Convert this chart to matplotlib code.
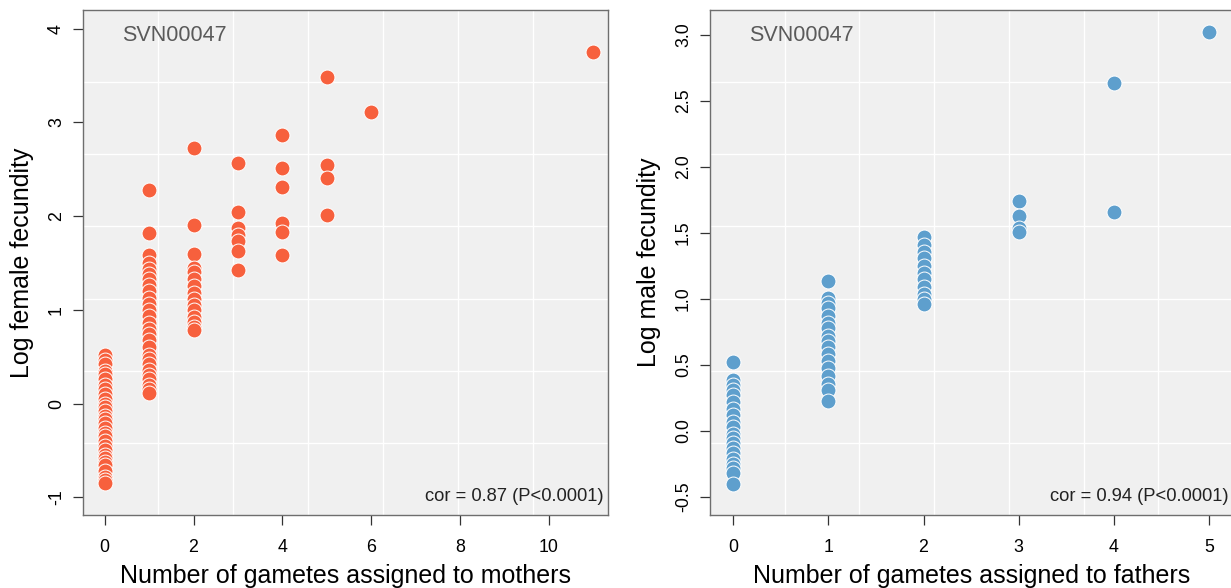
import numpy as np
import matplotlib

matplotlib.use("Agg")
import matplotlib.pyplot as plt

plt.rcParams["font.family"] = ["Liberation Sans", "DejaVu Sans"]

# female panel: gametes assigned to mothers vs log fecundity
female_counts = [0] * 30 + [1] * 27 + [2] * 15 + [3] * 7 + [4] * 6 + [5] * 4 + [6, 11]
female_logfec = [
    # 0 gametes
    0.52, 0.46, 0.42, 0.35, 0.31, 0.26, 0.20, 0.16, 0.10, 0.05,
    0.00, -0.04, -0.08, -0.13, -0.17, -0.21, -0.26, -0.31, -0.35, -0.40,
    -0.45, -0.50, -0.55, -0.58, -0.62, -0.66, -0.72, -0.78, -0.82, -0.85,
    # 1 gamete
    2.28, 1.82, 1.58, 1.50, 1.44, 1.38, 1.33, 1.27, 1.20, 1.13,
    1.06, 1.00, 0.93, 0.86, 0.80, 0.74, 0.68, 0.60, 0.52, 0.47,
    0.42, 0.36, 0.30, 0.26, 0.20, 0.15, 0.11,
    # 2 gametes
    2.73, 1.90, 1.60, 1.45, 1.40, 1.33, 1.25, 1.18, 1.12, 1.05,
    1.00, 0.92, 0.87, 0.82, 0.78,
    # 3 gametes
    2.57, 2.04, 1.87, 1.80, 1.73, 1.63, 1.43,
    # 4 gametes
    2.87, 2.51, 2.31, 1.93, 1.83, 1.59,
    # 5 gametes
    3.48, 2.55, 2.41, 2.01,
    # 6 and 11 gametes
    3.11, 3.75,
]

# male panel: gametes assigned to fathers vs log fecundity
male_counts = [0] * 20 + [1] * 17 + [2] * 11 + [3] * 4 + [4] * 2 + [5]
male_logfec = [
    # 0 gametes
    0.52, 0.39, 0.35, 0.31, 0.27, 0.22, 0.17, 0.12, 0.07, 0.03,
    -0.02, -0.05, -0.09, -0.13, -0.17, -0.21, -0.25, -0.28, -0.32, -0.40,
    # 1 gamete
    1.14, 1.01, 0.97, 0.93, 0.87, 0.82, 0.78, 0.72, 0.68, 0.64,
    0.58, 0.53, 0.48, 0.42, 0.36, 0.31, 0.23,
    # 2 gametes
    1.47, 1.41, 1.36, 1.31, 1.25, 1.20, 1.15, 1.09, 1.04, 1.00, 0.96,
    # 3 gametes
    1.74, 1.63, 1.54, 1.51,
    # 4 and 5 gametes
    2.64, 1.66, 3.02,
]

female_xticks = [0, 2, 4, 6, 8, 10]
female_yticks = [-1, 0, 1, 2, 3, 4]
male_xticks = [0, 1, 2, 3, 4, 5]
male_yticks = [-0.5, 0.0, 0.5, 1.0, 1.5, 2.0, 2.5, 3.0]

PANELS = [
    dict(
        rect=[83 / 1231, 73 / 588, 525 / 1231, 505 / 588],
        x=female_counts, y=female_logfec, color="#F7603D",
        xlim=(-0.49, 11.34), ylim=(-1.19, 4.2),
        xticks=female_xticks, yticks=female_yticks, yfmt="{:g}",
        xlabel="Number of gametes assigned to mothers",
        ylabel="Log female fecundity",
        cor="cor = 0.87 (P<0.0001)",
    ),
    dict(
        rect=[710 / 1231, 73 / 588, 523 / 1231, 505 / 588],
        x=male_counts, y=male_logfec, color="#5E9FCD",
        xlim=(-0.242, 5.25), ylim=(-0.636, 3.19),
        xticks=male_xticks, yticks=male_yticks, yfmt="{:.1f}",
        xlabel="Number of gametes assigned to fathers",
        ylabel="Log male fecundity",
        cor="cor = 0.94 (P<0.0001)",
    ),
]

fig = plt.figure(figsize=(12.31, 5.88), dpi=100)

for p in PANELS:
    ax = fig.add_axes(p["rect"])
    ax.set_facecolor("#F0F0F0")
    ax.set_xlim(*p["xlim"])
    ax.set_ylim(*p["ylim"])

    # equal-cell background grid, 7 x 7
    for gx in np.linspace(*p["xlim"], 8)[1:-1]:
        ax.axvline(gx, color="white", lw=1.0, zorder=1)
    for gy in np.linspace(*p["ylim"], 8)[1:-1]:
        ax.axhline(gy, color="white", lw=1.0, zorder=1)

    ax.scatter(p["x"], p["y"], s=115, c=p["color"], edgecolors="white",
               linewidths=0.7, zorder=3)

    ax.set_xticks(p["xticks"])
    ax.set_yticks(p["yticks"])
    ax.set_yticklabels([p["yfmt"].format(v) for v in p["yticks"]],
                       rotation=90, va="center")
    ax.tick_params(axis="both", direction="out", length=7, width=0.9,
                   labelsize=12.8, color="#333333", pad=6)
    ax.tick_params(axis="x", pad=10)
    for side in ax.spines.values():
        side.set_color("#6E6E6E")
        side.set_linewidth(1.0)

    ax.set_xlabel(p["xlabel"], fontsize=18, labelpad=6)
    ax.set_ylabel(p["ylabel"], fontsize=18, labelpad=10)

    ax.text(0.075, 0.95, "SVN00047", transform=ax.transAxes, fontsize=15.5,
            color="#5A5A5A", ha="left", va="center")
    ax.text(0.991, 0.036, p["cor"], transform=ax.transAxes, fontsize=13.2,
            color="#222222", ha="right", va="center")

fig.savefig("out.png", dpi=100)
